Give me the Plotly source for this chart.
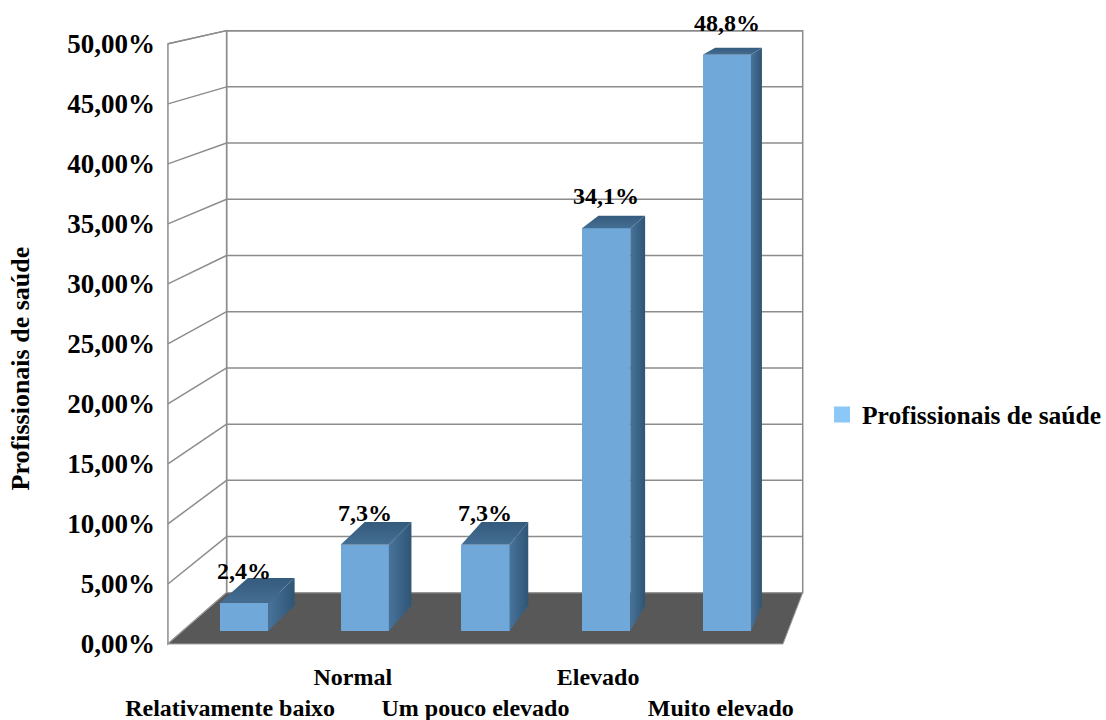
import plotly.graph_objects as go

# ---------------- data ----------------
categories = ["Relativamente baixo", "Normal", "Um pouco elevado", "Elevado", "Muito elevado"]
values = [2.4, 7.3, 7.3, 34.1, 48.8]
value_labels = ["2,4%", "7,3%", "7,3%", "34,1%", "48,8%"]
y_ticks = [0, 5, 10, 15, 20, 25, 30, 35, 40, 45, 50]
y_tick_labels = ["0,00%", "5,00%", "10,00%", "15,00%", "20,00%", "25,00%",
                 "30,00%", "35,00%", "40,00%", "45,00%", "50,00%"]
series_name = "Profissionais de saúde"

# ---------------- perspective geometry (bar front plane = scale 1) ----------------
VX, VY = 7.05, 67.4            # vanishing point in axis units
K_FRONT, K_BACK, K_BAR_BACK = 1.0163, 0.952, 0.968
BAR_W = 0.4
X_LEFT, X_RIGHT = -0.507, 4.507
Y_MAX = 50

FONT = "Liberation Serif, Times New Roman, serif"
GRID = "#8c8c8c"


def proj(x, y, k):
    return VX + (x - VX) * k, VY + (y - VY) * k


def path(points):
    return "M " + " L ".join(f"{x:.4f},{y:.4f}" for x, y in points) + " Z"


shapes = []
# back wall
bw = [proj(X_LEFT, 0, K_BACK), proj(X_RIGHT, 0, K_BACK), proj(X_RIGHT, Y_MAX, K_BACK), proj(X_LEFT, Y_MAX, K_BACK)]
shapes.append(dict(type="path", path=path(bw), fillcolor="white", line=dict(color=GRID, width=1.5), layer="below"))
# left wall
lw = [proj(X_LEFT, 0, K_FRONT), proj(X_LEFT, Y_MAX, K_FRONT), proj(X_LEFT, Y_MAX, K_BACK), proj(X_LEFT, 0, K_BACK)]
shapes.append(dict(type="path", path=path(lw), fillcolor="white", line=dict(color=GRID, width=1.5), layer="below"))
# gridlines
for t in y_ticks:
    a = proj(X_LEFT, t, K_BACK)
    b = proj(X_RIGHT, t, K_BACK)
    c = proj(X_LEFT, t, K_FRONT)
    shapes.append(dict(type="line", x0=a[0], y0=a[1], x1=b[0], y1=b[1], line=dict(color=GRID, width=1.5), layer="below"))
    shapes.append(dict(type="line", x0=c[0], y0=c[1], x1=a[0], y1=a[1], line=dict(color=GRID, width=1.5), layer="below"))
# floor
fl = [proj(X_LEFT, 0, K_FRONT), proj(X_RIGHT, 0, K_FRONT), proj(X_RIGHT, 0, K_BACK), proj(X_LEFT, 0, K_BACK)]
shapes.append(dict(type="path", path=path(fl), fillcolor="#585858", line=dict(color="#a0a0a0", width=1), layer="below"))

fig = go.Figure()

# front faces of the bars
fig.add_trace(go.Bar(
    x=list(range(len(values))), y=values, width=BAR_W,
    marker=dict(color="#6fa8d9", line=dict(width=0)),
    showlegend=False, hoverinfo="skip",
))

# side and top faces, derived from the values
for i, v in enumerate(values):
    xr, xl = i + BAR_W / 2, i - BAR_W / 2
    side = [(xr, 0), (xr, v), proj(xr, v, K_BAR_BACK), proj(xr, 0, K_BAR_BACK), (xr, 0)]
    top = [(xl, v), (xr, v), proj(xr, v, K_BAR_BACK), proj(xl, v, K_BAR_BACK), (xl, v)]
    fig.add_trace(go.Scatter(
        x=[p[0] for p in side], y=[p[1] for p in side], mode="lines", fill="toself",
        line=dict(width=0), fillcolor="#3b6182",
        fillgradient=dict(type="horizontal", colorscale=[[0, "#48739b"], [1, "#2f5575"]]),
        showlegend=False, hoverinfo="skip"))
    fig.add_trace(go.Scatter(
        x=[p[0] for p in top], y=[p[1] for p in top], mode="lines", fill="toself",
        line=dict(width=0), fillcolor="#3d6587",
        fillgradient=dict(type="vertical", colorscale=[[0, "#446e94"], [1, "#355b7c"]]),
        showlegend=False, hoverinfo="skip"))

# legend entry
fig.add_trace(go.Scatter(
    x=[None], y=[None], mode="markers", name=series_name,
    marker=dict(symbol="square", size=16, color="#8cc8f7"),
))

annotations = []
for i, (v, lab) in enumerate(zip(values, value_labels)):
    annotations.append(dict(x=i, y=v, xref="x", yref="y", text=lab, showarrow=False,
                            yshift=32, font=dict(family=FONT, size=24, color="black", weight="bold")))
annotations.append(dict(x=-0.215, y=0.456, xref="paper", yref="paper", text=series_name,
                        textangle=-90, showarrow=False, xanchor="center", yanchor="middle",
                        font=dict(family=FONT, size=26, color="black", weight="bold")))

x_tickvals = [proj(i, 0, K_FRONT)[0] for i in range(len(categories))]
x_ticktext = [c if i % 2 == 1 else "\u00a0<br>" + c for i, c in enumerate(categories)]
y_tickvals = [proj(X_LEFT, t, K_FRONT)[1] for t in y_ticks]

fig.update_layout(
    width=1106, height=720,
    margin=dict(l=160, r=296, t=20, b=60, autoexpand=False),
    paper_bgcolor="white", plot_bgcolor="white",
    shapes=shapes, annotations=annotations,
    xaxis=dict(range=[-84 / 120.7, 566 / 120.7], tickvals=x_tickvals, ticktext=x_ticktext,
               tickangle=0, showgrid=False, zeroline=False, showline=False, ticks="",
               automargin=False,
               tickfont=dict(family=FONT, size=24, color="black", weight="bold")),
    yaxis=dict(range=[-29 / 11.81, 611 / 11.81], tickvals=y_tickvals, ticktext=y_tick_labels,
               showgrid=False, zeroline=False, showline=False, ticks="", ticklabelstandoff=4,
               automargin=False,
               tickfont=dict(family=FONT, size=27, color="black", weight="bold")),
    legend=dict(x=1.0185, y=0.383, xanchor="left", yanchor="middle",
                font=dict(family=FONT, size=25.5, color="black", weight="bold")),
    bargap=0,
)

fig.write_html("out.html")
